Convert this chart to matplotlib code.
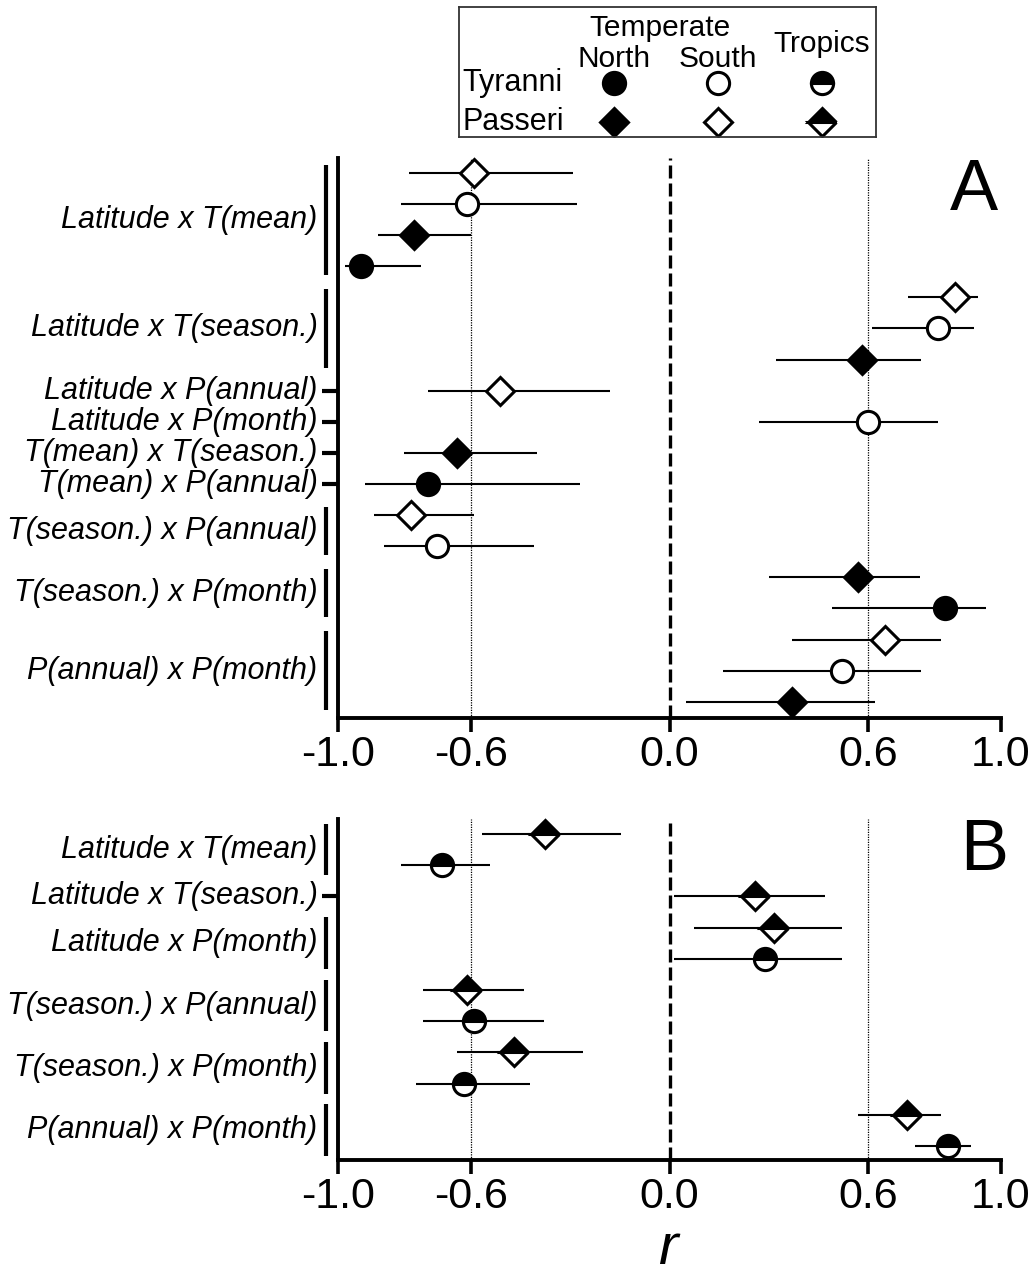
import matplotlib

matplotlib.use("Agg")
import matplotlib.pyplot as plt
import numpy as np
from matplotlib.transforms import blended_transform_factory

plt.rcParams["font.family"] = ["Liberation Sans", "DejaVu Sans"]

W, H = 1030, 1276

# ---- panel A: temperate north / south ----
a_groups = [
    "Latitude x T(mean)",
    "Latitude x T(season.)",
    "Latitude x P(annual)",
    "Latitude x P(month)",
    "T(mean) x T(season.)",
    "T(mean) x P(annual)",
    "T(season.) x P(annual)",
    "T(season.) x P(month)",
    "P(annual) x P(month)",
]
a_group_sizes = [4, 3, 1, 1, 1, 1, 2, 2, 3]
a_region = ["South", "South", "North", "North", "South", "South", "North",
            "South", "South", "North", "North", "South", "South", "North",
            "North", "South", "South", "North"]
a_taxon = ["Passeri", "Tyranni", "Passeri", "Tyranni", "Passeri", "Tyranni",
           "Passeri", "Passeri", "Tyranni", "Passeri", "Tyranni", "Passeri",
           "Tyranni", "Passeri", "Tyranni", "Passeri", "Tyranni", "Passeri"]
a_r = [-0.59, -0.61, -0.77, -0.93, 0.86, 0.81, 0.58, -0.51, 0.60, -0.64,
       -0.73, -0.78, -0.70, 0.57, 0.83, 0.65, 0.52, 0.37]
a_lo = [-0.785, -0.81, -0.88, -0.98, 0.72, 0.61, 0.32, -0.73, 0.27, -0.80,
        -0.92, -0.89, -0.86, 0.30, 0.49, 0.37, 0.16, 0.05]
a_hi = [-0.29, -0.28, -0.60, -0.75, 0.93, 0.92, 0.76, -0.18, 0.81, -0.40,
        -0.27, -0.59, -0.41, 0.755, 0.955, 0.82, 0.76, 0.62]

# ---- panel B: tropics ----
b_groups = [
    "Latitude x T(mean)",
    "Latitude x T(season.)",
    "Latitude x P(month)",
    "T(season.) x P(annual)",
    "T(season.) x P(month)",
    "P(annual) x P(month)",
]
b_group_sizes = [2, 1, 2, 2, 2, 2]
b_region = ["Tropics"] * 11
b_taxon = ["Passeri", "Tyranni", "Passeri", "Passeri", "Tyranni", "Passeri",
           "Tyranni", "Passeri", "Tyranni", "Passeri", "Tyranni"]
b_r = [-0.375, -0.685, 0.257, 0.315, 0.287, -0.61, -0.59, -0.47, -0.62,
       0.715, 0.84]
b_lo = [-0.565, -0.81, 0.015, 0.075, 0.015, -0.745, -0.745, -0.64, -0.765,
        0.57, 0.74]
b_hi = [-0.145, -0.54, 0.47, 0.52, 0.52, -0.44, -0.38, -0.26, -0.42,
        0.82, 0.91]

regions = ["North", "South", "Tropics"]
taxa = ["Tyranni", "Passeri"]
xticks = [-1.0, -0.6, 0.0, 0.6, 1.0]
xtick_labels = ["-1.0", "-0.6", "0.0", "0.6", "1.0"]

MARKER = {"Tyranni": "o", "Passeri": "D"}
SIZE = {"Tyranni": 16, "Passeri": 14.5}


def marker_style(region, taxon):
    st = dict(marker=MARKER[taxon], markersize=SIZE[taxon],
              markeredgecolor="black", markeredgewidth=2.2, linestyle="none")
    if region == "North":
        st.update(markerfacecolor="black")
    elif region == "South":
        st.update(markerfacecolor="white")
    else:
        st.update(markerfacecolor="black", fillstyle="top",
                  markerfacecoloralt="white")
    return st


def draw_panel(ax, groups, sizes, region, taxon, r, lo, hi, ylim, pad,
               letter, letter_xy):
    n = len(r)
    y = np.arange(n)
    ax.set_xlim(-1, 1)
    ax.set_ylim(*ylim)

    ax.axvline(0, color="black", lw=2.4, ls=(0, (3.9, 1.5)), zorder=1)
    for v in (-0.6, 0.6):
        ax.axvline(v, color="black", lw=0.9, ls=(0, (1, 1)), zorder=1)

    ax.hlines(y, lo, hi, color="black", lw=1.5, zorder=2)
    for i in range(n):
        ax.plot(r[i], y[i], zorder=3, clip_on=False,
                **marker_style(region[i], taxon[i]))

    for s in ("top", "right"):
        ax.spines[s].set_visible(False)
    for s in ("left", "bottom"):
        ax.spines[s].set_linewidth(2.8)
    ax.set_yticks([])
    ax.set_xticks(xticks)
    ax.set_xticklabels(xtick_labels)
    ax.tick_params(axis="x", length=10, width=2.6, pad=2, labelsize=31)

    # group brackets / ticks left of the axis
    trans = blended_transform_factory(ax.transAxes, ax.transData)
    start = 0
    for name, k in zip(groups, sizes):
        first, last = start, start + k - 1
        if k == 1:
            ax.plot([-0.0235, 0], [first, first], color="black", lw=3,
                    transform=trans, clip_on=False, solid_capstyle="butt")
        else:
            ax.plot([-0.018, -0.018], [first - pad, last + pad], color="black",
                    lw=3, transform=trans, clip_on=False,
                    solid_capstyle="butt")
        ax.text(-0.031, (first + last) / 2, name, transform=trans,
                ha="right", va="center", fontsize=22, style="italic")
        start += k

    ax.text(letter_xy[0], letter_xy[1], letter, transform=ax.transAxes,
            ha="center", va="center", fontsize=52)


fig = plt.figure(figsize=(W / 100, H / 100), dpi=100)

left, right = 338, 1001
ax_a = fig.add_axes([left / W, 1 - 718 / H, (right - left) / W, (718 - 158) / H])
draw_panel(ax_a, a_groups, a_group_sizes, a_region, a_taxon, a_r, a_lo, a_hi,
           (17.52, -0.48), 0.27, "A", (0.959, 0.94))

ax_b = fig.add_axes([left / W, 1 - 1160 / H, (right - left) / W, (1160 - 819) / H])
draw_panel(ax_b, b_groups, b_group_sizes, b_region, b_taxon, b_r, b_lo, b_hi,
           (10.45, -0.48), 0.33, "B", (0.974, 0.905))

fig.text(668 / W, 0.0, "r", ha="center", va="bottom", fontsize=42,
         style="italic")

# ---- key box ----
lax = fig.add_axes([459 / W, 1 - 137 / H, (876 - 459) / W, (137 - 7) / H])
lax.set_xlim(-1.49, 2.52)
lax.set_ylim(1.38, -1.95)
lax.set_xticks([])
lax.set_yticks([])
for s in lax.spines.values():
    s.set_linewidth(1.3)
    s.set_color("#333333")
for j, reg in enumerate(regions):
    for i, tax in enumerate(taxa):
        lax.plot(j, i, **marker_style(reg, tax))
for i, tax in enumerate(taxa):
    lax.text(-1.46, i, tax, ha="left", va="center", fontsize=22)
lax.text(0.44, -1.40, "Temperate", ha="center", va="center", fontsize=21.5)
lax.text(0, -0.63, "North", ha="center", va="center", fontsize=21.5)
lax.text(1, -0.63, "South", ha="center", va="center", fontsize=21.5)
lax.text(2, -1.0, "Tropics", ha="center", va="center", fontsize=21.5)

fig.savefig("out.png", dpi=100)
plt.close(fig)
